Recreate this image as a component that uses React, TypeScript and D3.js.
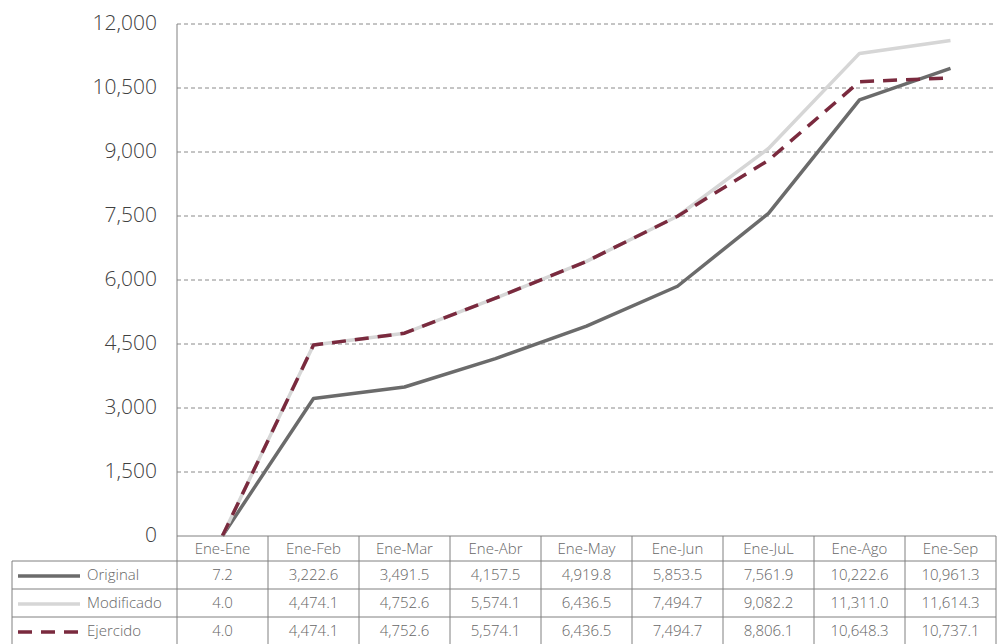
import React from "react";
import * as d3 from "d3";

const categories = ["Ene-Ene", "Ene-Feb", "Ene-Mar", "Ene-Abr", "Ene-May", "Ene-Jun", "Ene-JuL", "Ene-Ago", "Ene-Sep"];
const original = [7.2, 3222.6, 3491.5, 4157.5, 4919.8, 5853.5, 7561.9, 10222.6, 10961.3];
const modificado = [4.0, 4474.1, 4752.6, 5574.1, 6436.5, 7494.7, 9082.2, 11311.0, 11614.3];
const ejercido = [4.0, 4474.1, 4752.6, 5574.1, 6436.5, 7494.7, 8806.1, 10648.3, 10737.1];
const yTicks = [0, 1500, 3000, 4500, 6000, 7500, 9000, 10500, 12000];

const series = [
  { name: "Original", values: original, color: "#6b6b6b", dash: "" },
  { name: "Modificado", values: modificado, color: "#d6d6d6", dash: "" },
  { name: "Ejercido", values: ejercido, color: "#7a2a3e", dash: "14,9" },
];

const App: React.FC = () => {
  const width = 998;
  const height = 644;
  const plot = { left: 177, right: 996, top: 24, bottom: 536 };
  const tableLeft = 12;
  const rowH = 28;
  const headerBottom = 561;
  const font = "'Open Sans', 'DejaVu Sans', sans-serif";

  const x = d3.scaleBand().domain(categories).range([plot.left, plot.right]);
  const y = d3.scaleLinear().domain([0, 12000]).range([plot.bottom, plot.top]);
  const fmtTick = d3.format(",.0f");
  const fmtVal = d3.format(",.1f");

  const line = d3
    .line<number>()
    .x((_, i) => x(categories[i])! + x.bandwidth() / 2)
    .y((d) => y(d));

  return (
    <svg width={width} height={height} style={{ position: "absolute", left: 0, top: 0, background: "#fff" }}>
      {/* gridlines */}
      {yTicks.map((t) =>
        t === 0 ? null : (
          <line key={t} x1={plot.left} x2={plot.right} y1={y(t)} y2={y(t)} stroke="#8a8a8a" strokeWidth={1} strokeDasharray="4,3" />
        )
      )}
      {/* y labels */}
      {yTicks.map((t) => (
        <text key={"l" + t} x={157} y={y(t)} textAnchor="end" dominantBaseline="middle" fontFamily={font} fontWeight={300} fontSize={21} fill="#404040">
          {fmtTick(t)}
        </text>
      ))}
      {/* y axis */}
      <line x1={plot.left} x2={plot.left} y1={plot.top} y2={plot.bottom} stroke="#808080" />

      {/* lines */}
      {series.map((s) => (
        <path
          key={s.name}
          d={line(s.values)!}
          fill="none"
          stroke={s.color}
          strokeWidth={3.5}
          strokeDasharray={s.dash || undefined}
          strokeLinejoin="round"
        />
      ))}

      {/* data table */}
      <g fontFamily={font} fontWeight={300} fontSize={15} fill="#666">
        <line x1={plot.left} x2={plot.right} y1={plot.bottom} y2={plot.bottom} stroke="#808080" />
        {categories.map((c) => (
          <text key={c} x={x(c)! + x.bandwidth() / 2} y={(plot.bottom + headerBottom) / 2 + 1} textAnchor="middle" dominantBaseline="middle">
            {c}
          </text>
        ))}
        {[0, 1, 2, 3].map((r) => (
          <line key={"h" + r} x1={tableLeft} x2={plot.right} y1={headerBottom + r * rowH} y2={headerBottom + r * rowH} stroke="#808080" />
        ))}
        <line x1={tableLeft} x2={tableLeft} y1={headerBottom} y2={height} stroke="#808080" />
        {categories.map((c, i) => (
          <line key={"v" + i} x1={x(c)!} x2={x(c)!} y1={plot.bottom} y2={height} stroke="#808080" />
        ))}
        <line x1={plot.right} x2={plot.right} y1={plot.bottom} y2={height} stroke="#808080" />
        {series.map((s, r) => {
          const cy = headerBottom + r * rowH + rowH / 2 + 1;
          return (
            <g key={s.name}>
              <line x1={18} x2={80} y1={cy} y2={cy} stroke={s.color} strokeWidth={3.5} strokeDasharray={s.dash || undefined} />
              <text x={87} y={cy} dominantBaseline="middle">
                {s.name}
              </text>
              {s.values.map((v, i) => (
                <text key={i} x={x(categories[i])! + x.bandwidth() / 2} y={cy} textAnchor="middle" dominantBaseline="middle">
                  {fmtVal(v)}
                </text>
              ))}
            </g>
          );
        })}
      </g>
    </svg>
  );
};

export default App;
